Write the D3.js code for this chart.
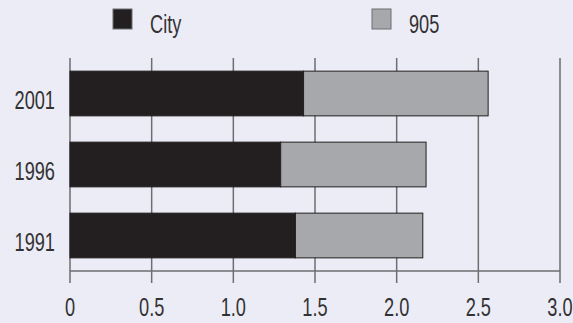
<!DOCTYPE html>
<html><head><meta charset="utf-8">
<script src="https://cdn.jsdelivr.net/npm/d3@7"></script>
<style>
html,body{margin:0;padding:0;background:#ECECF6;}
svg{display:block;}
text{font-family:"Liberation Sans","Arial",sans-serif;fill:#333233;font-size:26px;}
</style></head><body>
<svg id="c" width="573" height="323"></svg>
<script>
const years = ["2001","1996","1991"];
const city = [1.43, 1.29, 1.38];
const gta905 = [1.13, 0.89, 0.78];
const seriesNames = ["City","905"];
const xTicks = [0,0.5,1.0,1.5,2.0,2.5,3.0];
const xTickLabels = ["0","0.5","1.0","1.5","2.0","2.5","3.0"];

const svg = d3.select("#c");
const colors = ["#231F20","#A7A8AB"];
const sx = 0.7;
const x = d3.scaleLinear().domain([0,3]).range([70,560]);
const y = d3.scaleBand().domain(years).range([58,271]).paddingInner(0.37).paddingOuter(0.185);

// gridlines
svg.append("g").selectAll("line").data(xTicks).join("line")
  .attr("x1",d=>x(d)).attr("x2",d=>x(d)).attr("y1",58).attr("y2",283)
  .attr("stroke","#6D6E71").attr("stroke-width",1.5);

const rows = years.map((yr,i)=>({yr, v:[city[i], gta905[i]]}));
const stack = rows.map(r=>{
  let acc=0; return r.v.map((v,k)=>{const s=acc; acc+=v; return {yr:r.yr,k,s,e:acc};});
}).flat();
svg.append("g").selectAll("rect").data(stack).join("rect")
  .attr("x",d=>x(d.s)).attr("width",d=>x(d.e)-x(d.s))
  .attr("y",d=>y(d.yr)).attr("height",y.bandwidth())
  .attr("fill",d=>colors[d.k]).attr("stroke","#231F20").attr("stroke-width",1);

// x axis line
svg.append("line").attr("x1",x(0)).attr("x2",x(3)).attr("y1",271).attr("y2",271)
  .attr("stroke","#6D6E71").attr("stroke-width",1.5);

// x tick labels
svg.append("g").selectAll("text").data(xTicks).join("text")
  .attr("transform",d=>`translate(${x(d)},316) scale(${sx},1)`).attr("text-anchor","middle")
  .text((d,i)=>xTickLabels[i]);

// y labels
svg.append("g").selectAll("text").data(years).join("text")
  .attr("transform",d=>`translate(55,${y(d)+y.bandwidth()/2+15}) scale(${sx},1)`).attr("text-anchor","end")
  .text(d=>d);

// legend
const legX = [113, 372];
const lg = svg.append("g").selectAll("g").data(seriesNames).join("g");
lg.append("rect").attr("x",(d,i)=>legX[i]).attr("y",9).attr("width",19).attr("height",20)
  .attr("fill",(d,i)=>colors[i]).attr("stroke","#6D6E71").attr("stroke-width",1);
lg.append("text").attr("transform",(d,i)=>`translate(${legX[i]+37},33) scale(${sx},1)`)
  .text(d=>d);
</script>
</body></html>
